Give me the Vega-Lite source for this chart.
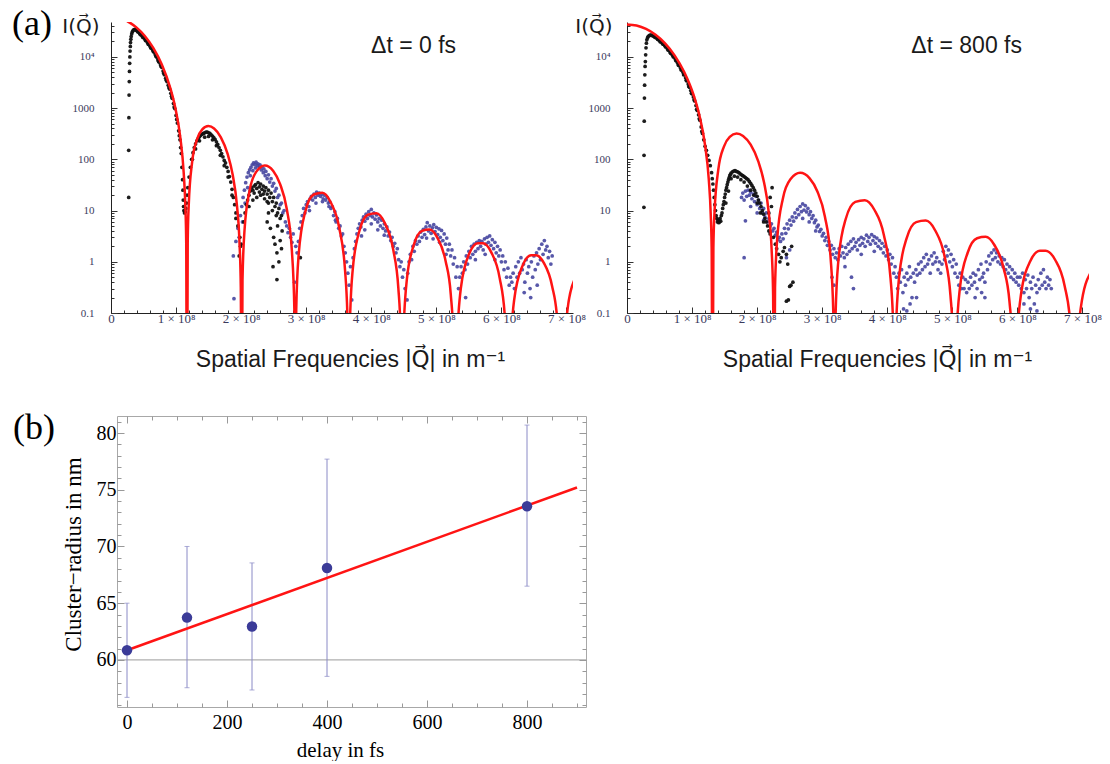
{
"$schema": "https://vega.github.io/schema/vega-lite/v6.json",
"background": "white",
"padding": {"left": 12, "top": 6, "right": 0, "bottom": 0},
"config": {"view": {"stroke": null}, "axis": {"grid": false, "labelOverlap": false, "labelFlush": false, "labelBound": false}},
"datasets": {
"redL": [{"q":0,"I":60000},{"q":0.1299,"I":57066},{"q":0.2597,"I":48979},{"q":0.3896,"I":37669},{"q":0.5195,"I":25592},{"q":0.6494,"I":14968},{"q":0.7792,"I":7169},{"q":0.9091,"I":2516},{"q":0.987,"I":1028},{"q":1.0649,"I":269.1},{"q":1.1169,"I":55.67},{"q":1.1429,"I":11.95},{"q":1.1558,"I":2.468},{"q":1.167,"I":0.0001},{"q":1.1792,"I":2.627},{"q":1.1948,"I":13.01},{"q":1.2468,"I":88.55},{"q":1.3247,"I":249.9},{"q":1.4026,"I":384.2},{"q":1.4961,"I":445.5},{"q":1.5844,"I":400.3},{"q":1.6883,"I":269.3},{"q":1.7922,"I":127.6},{"q":1.8701,"I":49.86},{"q":1.9351,"I":12.75},{"q":1.974,"I":2.485},{"q":1.9948,"I":0.3124},{"q":2.0065,"I":0.0001},{"q":2.0208,"I":0.4341},{"q":2.0519,"I":4.123},{"q":2.1299,"I":24.6},{"q":2.2338,"I":57.64},{"q":2.3636,"I":76.06},{"q":2.4935,"I":59.39},{"q":2.5974,"I":33.25},{"q":2.7013,"I":10.7},{"q":2.7792,"I":1.679},{"q":2.8182,"I":0.1131},{"q":2.8322,"I":0.0001},{"q":2.8468,"I":0.1157},{"q":2.8831,"I":1.3365},{"q":2.987,"I":9.662},{"q":3.1169,"I":20.56},{"q":3.2468,"I":22.26},{"q":3.3766,"I":14.48},{"q":3.5065,"I":4.66},{"q":3.5974,"I":0.672},{"q":3.6364,"I":0.0612},{"q":3.6535,"I":0.0001},{"q":3.6701,"I":0.0548},{"q":3.7143,"I":0.6898},{"q":3.8182,"I":4.041},{"q":3.9481,"I":8.299},{"q":4.0779,"I":8.897},{"q":4.2078,"I":5.694},{"q":4.3377,"I":1.714},{"q":4.4156,"I":0.309},{"q":4.4545,"I":0.0311},{"q":4.473,"I":0.0001},{"q":4.4909,"I":0.0288},{"q":4.5455,"I":0.436},{"q":4.6494,"I":2.071},{"q":4.7792,"I":4.024},{"q":4.8961,"I":4.277},{"q":5.013,"I":2.998},{"q":5.1429,"I":1.025},{"q":5.2208,"I":0.237},{"q":5.2727,"I":0.0161},{"q":5.2912,"I":0.0001},{"q":5.3091,"I":0.0145},{"q":5.3766,"I":0.306},{"q":5.5065,"I":1.45},{"q":5.6364,"I":2.297},{"q":5.7143,"I":2.303},{"q":5.8442,"I":1.528},{"q":5.974,"I":0.475},{"q":6.0519,"I":0.0867},{"q":6.0909,"I":0.0086},{"q":6.1088,"I":0.0001},{"q":6.1273,"I":0.0086},{"q":6.1948,"I":0.1755},{"q":6.3247,"I":0.8365},{"q":6.4545,"I":1.3366},{"q":6.5325,"I":1.3474},{"q":6.6494,"I":0.9631},{"q":6.7792,"I":0.3343},{"q":6.8571,"I":0.0767},{"q":6.9091,"I":0.0047},{"q":6.9262,"I":0.0001},{"q":6.9429,"I":0.0043},{"q":7.013,"I":0.109},{"q":7.1169,"I":0.4295}],
"redR": [{"q":0,"I":43000},{"q":0.1462,"I":40897},{"q":0.2924,"I":35102},{"q":0.4386,"I":26996},{"q":0.5848,"I":18341},{"q":0.731,"I":10727},{"q":0.8772,"I":5138},{"q":1.0234,"I":1803},{"q":1.1111,"I":736.5},{"q":1.1988,"I":192.8},{"q":1.2573,"I":39.9},{"q":1.2865,"I":8.561},{"q":1.3012,"I":1.769},{"q":1.3137,"I":0.0001},{"q":1.3275,"I":1.883},{"q":1.345,"I":9.325},{"q":1.4035,"I":63.46},{"q":1.4912,"I":179.1},{"q":1.5789,"I":275.3},{"q":1.6842,"I":319.3},{"q":1.7836,"I":286.9},{"q":1.9006,"I":193},{"q":2.0175,"I":91.46},{"q":2.1053,"I":35.73},{"q":2.1784,"I":9.135},{"q":2.2222,"I":1.781},{"q":2.2456,"I":0.2239},{"q":2.2588,"I":0.0001},{"q":2.2749,"I":0.3111},{"q":2.3099,"I":2.955},{"q":2.3977,"I":17.63},{"q":2.5146,"I":41.31},{"q":2.6608,"I":54.51},{"q":2.807,"I":42.57},{"q":2.924,"I":23.83},{"q":3.0409,"I":7.666},{"q":3.1287,"I":1.203},{"q":3.1725,"I":0.081},{"q":3.1883,"I":0.0001},{"q":3.2047,"I":0.0829},{"q":3.2456,"I":0.9578},{"q":3.3626,"I":6.925},{"q":3.5088,"I":14.74},{"q":3.655,"I":15.95},{"q":3.8012,"I":10.38},{"q":3.9474,"I":3.34},{"q":4.0497,"I":0.4816},{"q":4.0936,"I":0.0439},{"q":4.1129,"I":0.0001},{"q":4.1316,"I":0.0393},{"q":4.1813,"I":0.4944},{"q":4.2982,"I":2.896},{"q":4.4444,"I":5.948},{"q":4.5906,"I":6.376},{"q":4.7368,"I":4.081},{"q":4.883,"I":1.228},{"q":4.9708,"I":0.2214},{"q":5.0146,"I":0.0223},{"q":5.0354,"I":0.0001},{"q":5.0556,"I":0.0207},{"q":5.117,"I":0.3125},{"q":5.2339,"I":1.484},{"q":5.3801,"I":2.884},{"q":5.5117,"I":3.065},{"q":5.6433,"I":2.149},{"q":5.7895,"I":0.7349},{"q":5.8772,"I":0.1699},{"q":5.9357,"I":0.0115},{"q":5.9564,"I":0.0001},{"q":5.9766,"I":0.0104},{"q":6.0526,"I":0.2192},{"q":6.1988,"I":1.0394},{"q":6.345,"I":1.646},{"q":6.4327,"I":1.651},{"q":6.5789,"I":1.095},{"q":6.7251,"I":0.3403},{"q":6.8129,"I":0.0621},{"q":6.8567,"I":0.0062},{"q":6.8769,"I":0.0001},{"q":6.8977,"I":0.0062},{"q":6.9737,"I":0.1258},{"q":7.1199,"I":0.5995}],
"kL": [{"q":0.272,"I":18},{"q":0.272,"I":150},{"q":0.275,"I":650},{"q":0.278,"I":1800},{"q":0.281,"I":3300},{"q":0.284,"I":5200},{"q":0.287,"I":7500},{"q":0.29,"I":10000},{"q":0.293,"I":13000},{"q":0.297,"I":16000},{"q":0.3,"I":19000},{"q":0.305,"I":22000},{"q":0.31,"I":25000},{"q":0.318,"I":28000},{"q":0.326,"I":30500},{"q":0.335,"I":32000},{"q":0.345,"I":33500},{"q":0.356,"I":34000},{"q":0.368,"I":34500},{"q":0.38,"I":34000},{"q":0.392,"I":33000},{"q":0.4,"I":32500},{"q":0.42,"I":30500},{"q":0.44,"I":28500},{"q":0.46,"I":27000},{"q":0.48,"I":25300},{"q":0.5,"I":23800},{"q":0.52,"I":22400},{"q":0.54,"I":20700},{"q":0.56,"I":19000},{"q":0.58,"I":17500},{"q":0.6,"I":16100},{"q":0.62,"I":14800},{"q":0.64,"I":13700},{"q":0.66,"I":12400},{"q":0.68,"I":11100},{"q":0.7,"I":9900},{"q":0.72,"I":8800},{"q":0.74,"I":7900},{"q":0.76,"I":7000},{"q":0.78,"I":6250},{"q":0.8,"I":5300},{"q":0.82,"I":4500},{"q":0.84,"I":3850},{"q":0.86,"I":3300},{"q":0.88,"I":2800},{"q":0.9,"I":2350},{"q":0.92,"I":1950},{"q":0.94,"I":1550},{"q":0.96,"I":1230},{"q":0.98,"I":980},{"q":1,"I":720},{"q":1.02,"I":510},{"q":1.04,"I":360},{"q":1.06,"I":240},{"q":1.08,"I":130},{"q":1.09,"I":70},{"q":1.1,"I":40},{"q":1.105,"I":25},{"q":1.11,"I":16},{"q":1.115,"I":12},{"q":1.12,"I":10},{"q":1.13,"I":9},{"q":1.14,"I":9.5},{"q":1.15,"I":11},{"q":1.16,"I":14},{"q":1.17,"I":20},{"q":0.41,"I":31000},{"q":0.45,"I":27500},{"q":0.49,"I":24000},{"q":0.53,"I":21000},{"q":0.57,"I":17800},{"q":0.61,"I":15000},{"q":0.65,"I":12800},{"q":0.69,"I":10300},{"q":0.73,"I":8200},{"q":0.77,"I":6500},{"q":0.81,"I":4800},{"q":0.85,"I":3500},{"q":0.89,"I":2500},{"q":0.93,"I":1700},{"q":0.97,"I":1050},{"q":1.01,"I":600},{"q":1.05,"I":290},{"q":1.07,"I":170},{"q":1.18,"I":28},{"q":1.2,"I":45},{"q":1.22,"I":70},{"q":1.24,"I":100},{"q":1.26,"I":135},{"q":1.28,"I":170},{"q":1.3,"I":200},{"q":1.32,"I":230},{"q":1.34,"I":255},{"q":1.36,"I":275},{"q":1.38,"I":295},{"q":1.4,"I":310},{"q":1.42,"I":320},{"q":1.44,"I":330},{"q":1.46,"I":340},{"q":1.48,"I":340},{"q":1.5,"I":330},{"q":1.52,"I":320},{"q":1.54,"I":300},{"q":1.56,"I":285},{"q":1.58,"I":265},{"q":1.6,"I":245},{"q":1.62,"I":220},{"q":1.64,"I":195},{"q":1.66,"I":170},{"q":1.68,"I":150},{"q":1.7,"I":130},{"q":1.72,"I":112},{"q":1.74,"I":95},{"q":1.76,"I":85},{"q":1.78,"I":70},{"q":1.8,"I":58},{"q":1.82,"I":46},{"q":1.84,"I":36},{"q":1.86,"I":26},{"q":1.88,"I":18},{"q":1.9,"I":13},{"q":1.92,"I":9},{"q":1.95,"I":5},{"q":1.98,"I":3},{"q":2,"I":2.2},{"q":1.97,"I":1.3},{"q":1.99,"I":2},{"q":1.44,"I":270},{"q":1.5,"I":280},{"q":1.56,"I":240},{"q":1.62,"I":185},{"q":1.68,"I":120},{"q":1.74,"I":75},{"q":1.8,"I":45},{"q":1.86,"I":20},{"q":1.92,"I":7},{"q":1.3,"I":160},{"q":1.36,"I":230},{"q":1.25,"I":100},{"q":2.04,"I":6},{"q":2.06,"I":9},{"q":2.08,"I":13},{"q":2.1,"I":16},{"q":2.12,"I":20},{"q":2.14,"I":24},{"q":2.16,"I":28},{"q":2.18,"I":25},{"q":2.2,"I":30},{"q":2.22,"I":32},{"q":2.24,"I":27},{"q":2.26,"I":35},{"q":2.28,"I":29},{"q":2.3,"I":33},{"q":2.32,"I":26},{"q":2.34,"I":30},{"q":2.36,"I":24},{"q":2.38,"I":28},{"q":2.4,"I":21},{"q":2.42,"I":25},{"q":2.44,"I":18},{"q":2.46,"I":22},{"q":2.48,"I":15},{"q":2.5,"I":18},{"q":2.52,"I":12},{"q":2.54,"I":14},{"q":2.56,"I":9},{"q":2.58,"I":11},{"q":2.6,"I":7},{"q":2.62,"I":8},{"q":2.12,"I":12},{"q":2.18,"I":16},{"q":2.24,"I":18},{"q":2.3,"I":20},{"q":2.36,"I":17},{"q":2.42,"I":14},{"q":2.48,"I":10},{"q":2.54,"I":8},{"q":2.2,"I":22},{"q":2.28,"I":23},{"q":2.34,"I":21},{"q":2.4,"I":15},{"q":2.45,"I":4.5},{"q":2.5,"I":3},{"q":2.52,"I":2.2},{"q":2.55,"I":1.5},{"q":2.49,"I":0.8},{"q":2.55,"I":0.45},{"q":2.6,"I":2.6},{"q":2.62,"I":1.8},{"q":2.58,"I":1},{"q":2.91,"I":1.2},{"q":2.4,"I":6},{"q":2.42,"I":9},{"q":2.56,"I":5},{"q":2.63,"I":4}],
"bL": [{"q":1.88,"I":1.3},{"q":1.89,"I":0.19},{"q":1.92,"I":2.5},{"q":1.95,"I":4.5},{"q":1.97,"I":3},{"q":1.99,"I":8},{"q":2.01,"I":12},{"q":2.02,"I":6},{"q":2.03,"I":18},{"q":2.05,"I":25},{"q":2.06,"I":14},{"q":2.07,"I":35},{"q":2.09,"I":45},{"q":2.1,"I":28},{"q":2.11,"I":55},{"q":2.13,"I":62},{"q":2.14,"I":48},{"q":2.15,"I":70},{"q":2.17,"I":78},{"q":2.18,"I":60},{"q":2.19,"I":85},{"q":2.21,"I":80},{"q":2.22,"I":68},{"q":2.23,"I":88},{"q":2.25,"I":75},{"q":2.26,"I":82},{"q":2.28,"I":70},{"q":2.29,"I":78},{"q":2.31,"I":62},{"q":2.32,"I":72},{"q":2.34,"I":55},{"q":2.35,"I":65},{"q":2.37,"I":48},{"q":2.38,"I":58},{"q":2.4,"I":42},{"q":2.42,"I":50},{"q":2.44,"I":36},{"q":2.46,"I":42},{"q":2.48,"I":30},{"q":2.5,"I":34},{"q":2.52,"I":24},{"q":2.54,"I":27},{"q":2.56,"I":18},{"q":2.58,"I":20},{"q":2.6,"I":13},{"q":2.62,"I":14},{"q":2.64,"I":9},{"q":2.66,"I":10},{"q":2.68,"I":6},{"q":2.7,"I":5},{"q":2.72,"I":3.7},{"q":2.74,"I":4.5},{"q":2.76,"I":3},{"q":2.78,"I":2.4},{"q":2.8,"I":3.5},{"q":2.82,"I":0.4},{"q":2.84,"I":2},{"q":2.86,"I":1.5},{"q":2.88,"I":2.5},{"q":2.9,"I":4.5},{"q":2.92,"I":6},{"q":2.94,"I":8},{"q":2.96,"I":11},{"q":2.98,"I":9},{"q":3,"I":13},{"q":3.02,"I":15},{"q":3.04,"I":12},{"q":3.06,"I":17},{"q":3.08,"I":19},{"q":3.1,"I":16},{"q":3.12,"I":21},{"q":3.14,"I":18},{"q":3.16,"I":23},{"q":3.18,"I":20},{"q":3.2,"I":22},{"q":3.22,"I":19},{"q":3.24,"I":21},{"q":3.26,"I":17},{"q":3.28,"I":20},{"q":3.3,"I":16},{"q":3.32,"I":18},{"q":3.34,"I":14},{"q":3.36,"I":15},{"q":3.38,"I":11},{"q":3.4,"I":12},{"q":3.42,"I":8},{"q":3.44,"I":9.5},{"q":3.46,"I":6},{"q":3.48,"I":7},{"q":3.5,"I":4.5},{"q":3.52,"I":5},{"q":3.54,"I":3.2},{"q":3.56,"I":3.5},{"q":3.58,"I":2},{"q":3.6,"I":1.5},{"q":3.62,"I":1},{"q":3.64,"I":0.6},{"q":3.66,"I":0.35},{"q":3.7,"I":0.18},{"q":3.68,"I":0.8},{"q":3.72,"I":1.2},{"q":3.05,"I":10},{"q":3.15,"I":14},{"q":3.25,"I":15},{"q":3.35,"I":12},{"q":3.45,"I":6.5},{"q":3.74,"I":1.8},{"q":3.76,"I":2.5},{"q":3.78,"I":3.5},{"q":3.8,"I":4.5},{"q":3.82,"I":5.5},{"q":3.84,"I":4.8},{"q":3.86,"I":6.5},{"q":3.88,"I":7.5},{"q":3.9,"I":6.2},{"q":3.92,"I":8.5},{"q":3.94,"I":7},{"q":3.96,"I":9.5},{"q":3.98,"I":8},{"q":4,"I":10.5},{"q":4.02,"I":7.5},{"q":4.04,"I":9},{"q":4.06,"I":6.8},{"q":4.08,"I":8.2},{"q":4.1,"I":6},{"q":4.12,"I":7},{"q":4.14,"I":5},{"q":4.16,"I":6.5},{"q":4.18,"I":4.5},{"q":4.2,"I":5.5},{"q":4.22,"I":4},{"q":4.24,"I":4.8},{"q":4.26,"I":3.2},{"q":4.28,"I":3.8},{"q":4.3,"I":2.6},{"q":4.32,"I":3},{"q":4.34,"I":2},{"q":4.36,"I":2.3},{"q":4.38,"I":1.5},{"q":4.4,"I":1.8},{"q":4.42,"I":1.1},{"q":4.44,"I":0.8},{"q":4.46,"I":1},{"q":4.48,"I":0.5},{"q":4.52,"I":0.3},{"q":4.55,"I":0.18},{"q":4.5,"I":0.7},{"q":3.9,"I":4.2},{"q":4,"I":5.5},{"q":4.1,"I":4.2},{"q":4.2,"I":3.3},{"q":3.85,"I":3.2},{"q":4.56,"I":0.6},{"q":4.58,"I":1},{"q":4.6,"I":1.4},{"q":4.62,"I":1.1},{"q":4.64,"I":2},{"q":4.66,"I":1.6},{"q":4.68,"I":2.6},{"q":4.7,"I":2.2},{"q":4.72,"I":3.2},{"q":4.74,"I":2.5},{"q":4.76,"I":3.8},{"q":4.78,"I":3},{"q":4.8,"I":4.3},{"q":4.82,"I":3.4},{"q":4.84,"I":4.8},{"q":4.86,"I":5.8},{"q":4.88,"I":4},{"q":4.9,"I":5},{"q":4.92,"I":3.6},{"q":4.94,"I":4.6},{"q":4.96,"I":5.3},{"q":4.98,"I":3.9},{"q":5,"I":4.7},{"q":5.02,"I":3.4},{"q":5.04,"I":4.4},{"q":5.06,"I":3},{"q":5.08,"I":4.1},{"q":5.1,"I":2.6},{"q":5.12,"I":3.5},{"q":5.14,"I":2.2},{"q":5.16,"I":2.9},{"q":5.18,"I":1.7},{"q":5.2,"I":2.2},{"q":5.22,"I":1.3},{"q":5.24,"I":1.7},{"q":5.26,"I":0.9},{"q":5.28,"I":1.2},{"q":5.3,"I":0.5},{"q":5.32,"I":0.8},{"q":4.95,"I":2.8},{"q":5.05,"I":2.4},{"q":4.85,"I":2.9},{"q":5.15,"I":1.4},{"q":5.34,"I":0.3},{"q":5.36,"I":0.5},{"q":5.38,"I":0.8},{"q":5.4,"I":0.6},{"q":5.42,"I":1},{"q":5.44,"I":0.7},{"q":5.46,"I":1.3},{"q":5.48,"I":0.9},{"q":5.5,"I":1.6},{"q":5.52,"I":1.2},{"q":5.54,"I":2},{"q":5.56,"I":1.4},{"q":5.58,"I":2.2},{"q":5.6,"I":1.6},{"q":5.62,"I":2.4},{"q":5.64,"I":1.8},{"q":5.66,"I":2.6},{"q":5.68,"I":2},{"q":5.7,"I":2.5},{"q":5.72,"I":1.7},{"q":5.74,"I":2.8},{"q":5.76,"I":2.2},{"q":5.78,"I":3},{"q":5.8,"I":2.4},{"q":5.82,"I":3.2},{"q":5.84,"I":2.1},{"q":5.86,"I":2.7},{"q":5.88,"I":1.8},{"q":5.9,"I":2.4},{"q":5.92,"I":1.5},{"q":5.94,"I":2},{"q":5.96,"I":1.3},{"q":5.98,"I":1.7},{"q":6,"I":1},{"q":6.02,"I":1.3},{"q":6.04,"I":0.7},{"q":6.06,"I":1},{"q":6.08,"I":0.5},{"q":6.1,"I":0.75},{"q":6.12,"I":0.35},{"q":6.14,"I":0.5},{"q":5.45,"I":0.2},{"q":5.6,"I":1.1},{"q":5.75,"I":1.4},{"q":5.9,"I":1.1},{"q":6.16,"I":0.4},{"q":6.18,"I":0.6},{"q":6.2,"I":0.3},{"q":6.22,"I":0.8},{"q":6.24,"I":0.5},{"q":6.26,"I":1},{"q":6.28,"I":0.6},{"q":6.3,"I":1.2},{"q":6.32,"I":0.7},{"q":6.34,"I":0.9},{"q":6.36,"I":0.4},{"q":6.38,"I":1.1},{"q":6.4,"I":0.6},{"q":6.42,"I":0.8},{"q":6.44,"I":0.3},{"q":6.46,"I":1},{"q":6.48,"I":0.5},{"q":6.5,"I":1.3},{"q":6.52,"I":0.7},{"q":6.54,"I":1.5},{"q":6.56,"I":0.9},{"q":6.58,"I":1.8},{"q":6.6,"I":1.1},{"q":6.62,"I":2.2},{"q":6.64,"I":1.4},{"q":6.66,"I":2.6},{"q":6.68,"I":1.7},{"q":6.7,"I":2},{"q":6.72,"I":1.2},{"q":6.74,"I":1.6},{"q":6.76,"I":0.9},{"q":6.78,"I":1.3},{"q":6.45,"I":0.2},{"q":6.35,"I":0.25},{"q":6.55,"I":0.35}],
"kR": [{"q":0.26,"I":11.6},{"q":0.262,"I":120},{"q":0.265,"I":556},{"q":0.268,"I":1570},{"q":0.271,"I":2800},{"q":0.274,"I":4460},{"q":0.278,"I":6500},{"q":0.282,"I":8100},{"q":0.287,"I":11000},{"q":0.292,"I":15000},{"q":0.298,"I":18500},{"q":0.305,"I":21600},{"q":0.315,"I":23500},{"q":0.325,"I":25000},{"q":0.34,"I":26000},{"q":0.355,"I":26500},{"q":0.37,"I":26500},{"q":0.385,"I":26200},{"q":0.4,"I":25500},{"q":0.42,"I":25100},{"q":0.44,"I":24200},{"q":0.46,"I":23000},{"q":0.48,"I":21800},{"q":0.5,"I":20700},{"q":0.52,"I":19600},{"q":0.54,"I":18600},{"q":0.56,"I":17600},{"q":0.58,"I":16700},{"q":0.6,"I":15600},{"q":0.62,"I":14500},{"q":0.64,"I":13500},{"q":0.66,"I":12500},{"q":0.68,"I":11600},{"q":0.7,"I":10800},{"q":0.72,"I":10000},{"q":0.74,"I":9200},{"q":0.76,"I":8350},{"q":0.78,"I":7550},{"q":0.8,"I":6800},{"q":0.82,"I":6150},{"q":0.84,"I":5550},{"q":0.86,"I":5000},{"q":0.88,"I":4500},{"q":0.9,"I":3900},{"q":0.92,"I":3400},{"q":0.94,"I":2950},{"q":0.96,"I":2550},{"q":0.98,"I":2200},{"q":1,"I":1900},{"q":1.02,"I":1650},{"q":1.04,"I":1380},{"q":1.06,"I":1120},{"q":1.08,"I":900},{"q":1.1,"I":740},{"q":1.12,"I":580},{"q":1.14,"I":430},{"q":1.16,"I":320},{"q":1.18,"I":240},{"q":1.2,"I":180},{"q":0.43,"I":24000},{"q":0.47,"I":22000},{"q":0.51,"I":19800},{"q":0.55,"I":17800},{"q":0.59,"I":15800},{"q":0.63,"I":13700},{"q":0.67,"I":11800},{"q":0.71,"I":10100},{"q":0.75,"I":8500},{"q":0.79,"I":6900},{"q":0.83,"I":5600},{"q":0.87,"I":4500},{"q":0.91,"I":3500},{"q":0.95,"I":2650},{"q":0.99,"I":1950},{"q":1.03,"I":1450},{"q":1.07,"I":950},{"q":1.11,"I":620},{"q":1.15,"I":350},{"q":1.22,"I":150},{"q":1.24,"I":120},{"q":1.26,"I":95},{"q":1.28,"I":75},{"q":1.3,"I":55},{"q":1.31,"I":42},{"q":1.32,"I":33},{"q":1.33,"I":25},{"q":1.34,"I":18},{"q":1.35,"I":13},{"q":1.36,"I":10},{"q":1.37,"I":8},{"q":1.38,"I":7},{"q":1.39,"I":6},{"q":1.4,"I":6.5},{"q":1.41,"I":5.8},{"q":1.42,"I":6},{"q":1.43,"I":7},{"q":1.44,"I":6.2},{"q":1.45,"I":8},{"q":1.46,"I":9},{"q":1.47,"I":11},{"q":1.48,"I":13},{"q":1.49,"I":15},{"q":1.5,"I":18},{"q":1.51,"I":21},{"q":1.52,"I":25},{"q":1.53,"I":28},{"q":1.54,"I":32},{"q":1.55,"I":36},{"q":1.56,"I":40},{"q":1.57,"I":44},{"q":1.58,"I":48},{"q":1.59,"I":51},{"q":1.6,"I":54},{"q":1.62,"I":57},{"q":1.64,"I":59},{"q":1.66,"I":60},{"q":1.68,"I":58},{"q":1.7,"I":57},{"q":1.72,"I":55},{"q":1.74,"I":52},{"q":1.76,"I":50},{"q":1.78,"I":48},{"q":1.8,"I":46},{"q":1.82,"I":44},{"q":1.84,"I":42},{"q":1.86,"I":40},{"q":1.88,"I":37},{"q":1.9,"I":34},{"q":1.92,"I":31},{"q":1.94,"I":28},{"q":1.96,"I":25},{"q":1.98,"I":22},{"q":2,"I":19},{"q":2.02,"I":16},{"q":2.04,"I":14},{"q":2.06,"I":12},{"q":2.08,"I":10},{"q":2.1,"I":8.5},{"q":2.12,"I":7},{"q":2.14,"I":6},{"q":2.16,"I":5},{"q":2.18,"I":4},{"q":2.2,"I":3.5},{"q":1.6,"I":42},{"q":1.65,"I":47},{"q":1.7,"I":45},{"q":1.75,"I":40},{"q":1.8,"I":36},{"q":1.85,"I":30},{"q":1.9,"I":25},{"q":1.95,"I":20},{"q":2,"I":14},{"q":2.05,"I":9},{"q":2.1,"I":6},{"q":1.52,"I":14},{"q":1.56,"I":24},{"q":2.23,"I":28},{"q":2.25,"I":3},{"q":2.28,"I":2.2},{"q":2.3,"I":1.8},{"q":2.33,"I":1.4},{"q":2.35,"I":1},{"q":2.37,"I":1.2},{"q":2.4,"I":1.6},{"q":2.42,"I":1.9},{"q":2.45,"I":1.4},{"q":2.47,"I":0.9},{"q":2.5,"I":0.33},{"q":2.52,"I":0.35},{"q":2.48,"I":0.18},{"q":2.45,"I":0.17},{"q":2.55,"I":0.4},{"q":2.2,"I":18},{"q":2.22,"I":12},{"q":2.18,"I":9},{"q":2.53,"I":2}],
"bR": [{"q":1.76,"I":18},{"q":1.78,"I":22},{"q":1.8,"I":16},{"q":1.8,"I":1.2},{"q":1.82,"I":6.3},{"q":1.82,"I":24},{"q":1.84,"I":19},{"q":1.86,"I":25},{"q":1.88,"I":20},{"q":1.9,"I":23},{"q":1.92,"I":17},{"q":1.94,"I":21},{"q":1.96,"I":15},{"q":1.98,"I":19},{"q":2,"I":13},{"q":2.02,"I":16},{"q":2.04,"I":11},{"q":2.06,"I":14},{"q":2.08,"I":9},{"q":2.1,"I":11},{"q":2.12,"I":7.5},{"q":2.14,"I":9},{"q":2.16,"I":6},{"q":2.18,"I":7},{"q":2.2,"I":5},{"q":2.22,"I":5.5},{"q":2.24,"I":4},{"q":2.26,"I":4.5},{"q":2.28,"I":3.3},{"q":2.3,"I":3.8},{"q":2.32,"I":2.7},{"q":2.34,"I":3},{"q":1.9,"I":12},{"q":2,"I":9},{"q":2.1,"I":6.5},{"q":2.2,"I":3.8},{"q":2.36,"I":2.5},{"q":2.38,"I":3.5},{"q":2.4,"I":2.8},{"q":2.42,"I":4.5},{"q":2.44,"I":3.6},{"q":2.46,"I":5.5},{"q":2.48,"I":4.4},{"q":2.5,"I":6.5},{"q":2.52,"I":5.2},{"q":2.54,"I":7.5},{"q":2.56,"I":6.2},{"q":2.58,"I":9},{"q":2.6,"I":7.3},{"q":2.62,"I":10.5},{"q":2.64,"I":8.3},{"q":2.66,"I":12},{"q":2.68,"I":9.5},{"q":2.7,"I":13.5},{"q":2.72,"I":10.2},{"q":2.74,"I":12.5},{"q":2.76,"I":9.4},{"q":2.78,"I":11},{"q":2.8,"I":8.3},{"q":2.82,"I":9.5},{"q":2.84,"I":7},{"q":2.86,"I":8},{"q":2.88,"I":5.8},{"q":2.9,"I":6.5},{"q":2.92,"I":4.8},{"q":2.94,"I":5.2},{"q":2.96,"I":3.9},{"q":2.98,"I":4.3},{"q":3,"I":3.2},{"q":3.02,"I":3.6},{"q":3.04,"I":2.6},{"q":3.06,"I":3},{"q":3.08,"I":2.1},{"q":3.1,"I":2.5},{"q":3.12,"I":1.7},{"q":3.14,"I":2.1},{"q":3.16,"I":1.4},{"q":3.18,"I":1.8},{"q":3.2,"I":1.2},{"q":2.5,"I":1.7},{"q":2.45,"I":1.2},{"q":2.7,"I":7},{"q":2.8,"I":6},{"q":2.9,"I":4},{"q":3.15,"I":0.5},{"q":3.18,"I":0.35},{"q":3.22,"I":1.5},{"q":3.24,"I":1.1},{"q":3.26,"I":1.8},{"q":3.28,"I":1.3},{"q":3.3,"I":2},{"q":3.32,"I":1.5},{"q":3.34,"I":1.2},{"q":3.36,"I":1.9},{"q":3.38,"I":1.4},{"q":3.4,"I":2.2},{"q":3.42,"I":1.6},{"q":3.44,"I":2.5},{"q":3.46,"I":1.8},{"q":3.48,"I":2.8},{"q":3.5,"I":2},{"q":3.52,"I":2.4},{"q":3.54,"I":1.7},{"q":3.56,"I":2.7},{"q":3.58,"I":2.1},{"q":3.6,"I":3},{"q":3.62,"I":2.3},{"q":3.64,"I":2.8},{"q":3.66,"I":2},{"q":3.68,"I":3.3},{"q":3.7,"I":2.5},{"q":3.72,"I":3},{"q":3.74,"I":2.2},{"q":3.76,"I":3.4},{"q":3.78,"I":2.6},{"q":3.8,"I":3.1},{"q":3.82,"I":2.3},{"q":3.84,"I":2.9},{"q":3.86,"I":2},{"q":3.88,"I":2.6},{"q":3.9,"I":1.8},{"q":3.92,"I":2.3},{"q":3.94,"I":1.5},{"q":3.96,"I":2},{"q":3.98,"I":1.3},{"q":4,"I":1.7},{"q":4.02,"I":1.1},{"q":4.04,"I":1.4},{"q":4.06,"I":0.9},{"q":4.08,"I":1.2},{"q":3.45,"I":0.5},{"q":3.48,"I":0.3},{"q":3.35,"I":0.8},{"q":3.6,"I":1.4},{"q":3.8,"I":1.6},{"q":4.1,"I":0.6},{"q":4.12,"I":0.8},{"q":4.14,"I":0.5},{"q":4.16,"I":0.3},{"q":4.18,"I":0.6},{"q":4.2,"I":0.4},{"q":4.22,"I":0.7},{"q":4.24,"I":0.25},{"q":4.26,"I":0.5},{"q":4.28,"I":0.35},{"q":4.3,"I":0.6},{"q":4.32,"I":0.45},{"q":4.34,"I":0.8},{"q":4.36,"I":0.5},{"q":4.38,"I":0.2},{"q":4.4,"I":0.6},{"q":4.42,"I":0.4},{"q":4.44,"I":0.7},{"q":4.46,"I":0.55},{"q":4.48,"I":0.9},{"q":4.5,"I":0.6},{"q":4.52,"I":1},{"q":4.54,"I":0.7},{"q":4.56,"I":1.2},{"q":4.58,"I":0.8},{"q":4.6,"I":1.4},{"q":4.62,"I":0.9},{"q":4.64,"I":1.1},{"q":4.66,"I":0.6},{"q":4.68,"I":1.3},{"q":4.7,"I":0.9},{"q":4.72,"I":1.5},{"q":4.74,"I":1},{"q":4.76,"I":1.2},{"q":4.78,"I":0.7},{"q":4.8,"I":1},{"q":4.82,"I":0.6},{"q":4.84,"I":0.9},{"q":4.86,"I":1.6},{"q":4.88,"I":1.1},{"q":4.9,"I":2},{"q":4.92,"I":1.3},{"q":4.94,"I":1.7},{"q":4.96,"I":1},{"q":4.98,"I":1.4},{"q":5,"I":0.8},{"q":5.02,"I":1.1},{"q":5.04,"I":0.6},{"q":5.06,"I":0.9},{"q":5.08,"I":0.5},{"q":5.1,"I":0.35},{"q":5.12,"I":0.6},{"q":5.14,"I":0.3},{"q":4.25,"I":0.12},{"q":4.35,"I":0.15},{"q":4.45,"I":0.2},{"q":4.3,"I":0.11},{"q":5.16,"I":0.5},{"q":5.18,"I":0.3},{"q":5.2,"I":0.45},{"q":5.22,"I":0.25},{"q":5.24,"I":0.4},{"q":5.26,"I":0.3},{"q":5.28,"I":0.5},{"q":5.3,"I":0.35},{"q":5.32,"I":0.6},{"q":5.34,"I":0.4},{"q":5.36,"I":0.55},{"q":5.38,"I":0.3},{"q":5.4,"I":0.7},{"q":5.42,"I":0.45},{"q":5.44,"I":0.9},{"q":5.46,"I":0.5},{"q":5.48,"I":0.6},{"q":5.5,"I":0.4},{"q":5.52,"I":1},{"q":5.54,"I":0.7},{"q":5.56,"I":1.3},{"q":5.58,"I":0.9},{"q":5.6,"I":1.5},{"q":5.62,"I":1.1},{"q":5.64,"I":1.7},{"q":5.66,"I":1.2},{"q":5.68,"I":1.5},{"q":5.7,"I":1},{"q":5.72,"I":1.3},{"q":5.74,"I":0.9},{"q":5.76,"I":1.2},{"q":5.78,"I":0.8},{"q":5.8,"I":1.1},{"q":5.82,"I":0.7},{"q":5.84,"I":0.9},{"q":5.86,"I":0.6},{"q":5.88,"I":0.8},{"q":5.9,"I":0.5},{"q":5.92,"I":0.7},{"q":5.94,"I":0.45},{"q":5.96,"I":0.6},{"q":5.98,"I":0.4},{"q":6,"I":0.5},{"q":5.5,"I":0.2},{"q":5.45,"I":0.25},{"q":5.35,"I":0.2},{"q":6.02,"I":0.35},{"q":6.04,"I":0.5},{"q":6.06,"I":0.3},{"q":6.08,"I":0.6},{"q":6.1,"I":0.25},{"q":6.12,"I":0.45},{"q":6.14,"I":0.3},{"q":6.16,"I":0.55},{"q":6.18,"I":0.2},{"q":6.2,"I":0.4},{"q":6.22,"I":0.3},{"q":6.24,"I":0.5},{"q":6.26,"I":0.15},{"q":6.28,"I":0.35},{"q":6.3,"I":0.25},{"q":6.32,"I":0.45},{"q":6.34,"I":0.3},{"q":6.36,"I":0.6},{"q":6.38,"I":0.35},{"q":6.4,"I":0.7},{"q":6.42,"I":0.4},{"q":6.44,"I":0.3},{"q":6.46,"I":0.5},{"q":6.48,"I":0.35},{"q":6.5,"I":0.45},{"q":6.52,"I":0.3},{"q":6.2,"I":0.12},{"q":6.3,"I":0.11},{"q":6.1,"I":0.15}],
"pts": [{"d":0,"r":60.85},{"d":120,"r":63.73},{"d":250,"r":62.95},{"d":400,"r":68.1},{"d":800,"r":73.55}],
"err": [{"d":0,"r":56.7,"r2":65.0},{"d":120,"r":57.55,"r2":70.0},{"d":250,"r":57.35,"r2":68.55},{"d":400,"r":58.55,"r2":77.7},{"d":800,"r":66.5,"r2":80.7}],
"caps": [{"d":0,"r":56.7},{"d":0,"r":65.0},{"d":120,"r":57.55},{"d":120,"r":70.0},{"d":250,"r":57.35},{"d":250,"r":68.55},{"d":400,"r":58.55},{"d":400,"r":77.7},{"d":800,"r":66.5},{"d":800,"r":80.7}],
"base": [{"d":-20,"r":60},{"d":918,"r":60}],
"fit": [{"d":0,"r":60.85},{"d":900,"r":75.2}]
},
"vconcat": [
{
"hconcat": [
{
"width": 462, "height": 291,
"title": {"text": "(a)", "anchor": "start", "frame": "group", "orient": "top", "offset": 0, "dx": -99, "dy": 55, "baseline": "alphabetic", "font": "Liberation Serif", "fontSize": 36, "fontWeight": "normal", "color": "#000000"},
"encoding": {
"x": {"field": "q", "type": "quantitative", "scale": {"domain": [0, 7.1], "nice": false, "zero": false},
"axis": {"values": [0,0.2,0.4,0.6,0.8,1,1.2,1.4,1.6,1.8,2,2.2,2.4,2.6,2.8,3,3.2,3.4,3.6,3.8,4,4.2,4.4,4.6,4.8,5,5.2,5.4,5.6,5.8,6,6.2,6.4,6.6,6.8,7],
"labelExpr": "datum.value === 0 ? '0' : (abs(datum.value - round(datum.value)) < 0.01 ? round(datum.value) + ' × 10⁸' : '')",
"tickSize": {"condition": {"test": "abs(datum.value - round(datum.value)) < 0.01", "value": -6}, "value": -3},
"tickColor": "#333333", "domainColor": "#222222", "labelFont": "Liberation Serif", "labelFontSize": 13, "labelColor": "#3a3a5c", "labelPadding": 5,
"title": "Spatial Frequencies  |Q⃗|  in m⁻¹", "titleFont": "Liberation Sans, DejaVu Sans", "titleFontSize": 23, "titleFontWeight": "normal", "titleColor": "#1a1a1a", "titleX": 239, "titleY": 53, "titleBaseline": "alphabetic", "titleAlign": "center"}},
"y": {"field": "I", "type": "quantitative", "scale": {"type": "log", "domain": [0.1, 48000], "nice": false},
"axis": {"values": [0.1,0.2,0.3,0.4,0.5,0.6,0.7,0.8,0.9,1,2,3,4,5,6,7,8,9,10,20,30,40,50,60,70,80,90,100,200,300,400,500,600,700,800,900,1000,2000,3000,4000,5000,6000,7000,8000,9000,10000,20000,30000,40000],
"labelExpr": "datum.value === 10000 ? '10⁴' : datum.value === 1000 ? '1000' : datum.value === 100 ? '100' : datum.value === 10 ? '10' : datum.value === 1 ? '1' : datum.value === 0.1 ? '0.1' : ''",
"tickSize": {"condition": {"test": "indexof([0.1,1,10,100,1000,10000], datum.value) >= 0", "value": -6}, "value": -3},
"tickColor": "#333333", "domainColor": "#222222", "labelFont": "Liberation Serif", "labelFontSize": 11, "labelColor": "#3a3a5c", "labelPadding": 23,
"title": "I(Q⃗)", "titleAngle": 0, "titleAlign": "right", "titleBaseline": "alphabetic", "titleX": -12, "titleY": 10, "titleFont": "DejaVu Sans", "titleFontSize": 20, "titleFontWeight": "normal", "titleColor": "#1a1a1a"}}
},
"layer": [
{"data": {"name": "bL"}, "mark": {"type": "circle", "size": 14, "color": "#4646a0", "opacity": 0.9, "clip": true}},
{"data": {"name": "kL"}, "mark": {"type": "circle", "size": 14, "color": "#111111", "opacity": 0.95, "clip": true}},
{"data": {"name": "redL"}, "mark": {"type": "line", "color": "#ff1414", "strokeWidth": 2.5, "clip": true, "interpolate": "monotone"}},
{"data": {"values": [{"q": 4.65, "I": 12000, "t": "Δt = 0 fs"}]}, "mark": {"type": "text", "font": "Liberation Sans", "fontSize": 23, "align": "center", "baseline": "alphabetic", "color": "#1a1a1a"}, "encoding": {"text": {"field": "t"}}}
]
},
{
"width": 462, "height": 291,
"encoding": {
"x": {"field": "q", "type": "quantitative", "scale": {"domain": [0, 7.1], "nice": false, "zero": false},
"axis": {"values": [0,0.2,0.4,0.6,0.8,1,1.2,1.4,1.6,1.8,2,2.2,2.4,2.6,2.8,3,3.2,3.4,3.6,3.8,4,4.2,4.4,4.6,4.8,5,5.2,5.4,5.6,5.8,6,6.2,6.4,6.6,6.8,7],
"labelExpr": "datum.value === 0 ? '0' : (abs(datum.value - round(datum.value)) < 0.01 ? round(datum.value) + ' × 10⁸' : '')",
"tickSize": {"condition": {"test": "abs(datum.value - round(datum.value)) < 0.01", "value": -6}, "value": -3},
"tickColor": "#333333", "domainColor": "#222222", "labelFont": "Liberation Serif", "labelFontSize": 13, "labelColor": "#3a3a5c", "labelPadding": 5,
"title": "Spatial Frequencies  |Q⃗|  in m⁻¹", "titleFont": "Liberation Sans, DejaVu Sans", "titleFontSize": 23, "titleFontWeight": "normal", "titleColor": "#1a1a1a", "titleX": 250, "titleY": 53, "titleBaseline": "alphabetic", "titleAlign": "center"}},
"y": {"field": "I", "type": "quantitative", "scale": {"type": "log", "domain": [0.1, 48000], "nice": false},
"axis": {"values": [0.1,0.2,0.3,0.4,0.5,0.6,0.7,0.8,0.9,1,2,3,4,5,6,7,8,9,10,20,30,40,50,60,70,80,90,100,200,300,400,500,600,700,800,900,1000,2000,3000,4000,5000,6000,7000,8000,9000,10000,20000,30000,40000],
"labelExpr": "datum.value === 10000 ? '10⁴' : datum.value === 1000 ? '1000' : datum.value === 100 ? '100' : datum.value === 10 ? '10' : datum.value === 1 ? '1' : datum.value === 0.1 ? '0.1' : ''",
"tickSize": {"condition": {"test": "indexof([0.1,1,10,100,1000,10000], datum.value) >= 0", "value": -6}, "value": -3},
"tickColor": "#333333", "domainColor": "#222222", "labelFont": "Liberation Serif", "labelFontSize": 11, "labelColor": "#3a3a5c", "labelPadding": 23,
"title": "I(Q⃗)", "titleAngle": 0, "titleAlign": "right", "titleBaseline": "alphabetic", "titleX": -15, "titleY": 10, "titleFont": "DejaVu Sans", "titleFontSize": 20, "titleFontWeight": "normal", "titleColor": "#1a1a1a"}}
},
"layer": [
{"data": {"name": "bR"}, "mark": {"type": "circle", "size": 14, "color": "#4646a0", "opacity": 0.9, "clip": true}},
{"data": {"name": "kR"}, "mark": {"type": "circle", "size": 14, "color": "#111111", "opacity": 0.95, "clip": true}},
{"data": {"name": "redR"}, "mark": {"type": "line", "color": "#ff1414", "strokeWidth": 2.5, "clip": true, "interpolate": "monotone"}},
{"data": {"values": [{"q": 5.22, "I": 12000, "t": "Δt = 800 fs"}]}, "mark": {"type": "text", "font": "Liberation Sans", "fontSize": 23, "align": "center", "baseline": "alphabetic", "color": "#1a1a1a"}, "encoding": {"text": {"field": "t"}}}
]
}
],
"spacing": 54,
"bounds": "flush"
},
{
"hconcat": [
{"width": 1, "height": 291, "data": {"values": [{"v": 0}]}, "mark": {"type": "point", "opacity": 0}, "encoding": {}},
{
"width": 469, "height": 291,
"view": {"stroke": "#a8a8a8", "strokeWidth": 1},
"title": {"text": "(b)", "anchor": "start", "frame": "group", "orient": "top", "offset": 0, "dx": -104, "dy": 63, "baseline": "alphabetic", "font": "Liberation Serif", "fontSize": 36, "fontWeight": "normal", "color": "#000000"},
"layer": [
{
"encoding": {
"x": {"field": "d", "type": "quantitative", "scale": {"domain": [-20, 918], "nice": false, "zero": false},
"axis": {"orient": "bottom", "values": [0,50,100,150,200,250,300,350,400,450,500,550,600,650,700,750,800,850,900], "labelExpr": "datum.value % 200 === 0 ? datum.label : ''", "labelOverlap": false, "tickSize": {"condition": {"test": "datum.value % 200 === 0", "value": -7}, "value": -4}, "tickColor": "#999999", "domain": false, "labelFont": "Liberation Serif", "labelFontSize": 20, "labelColor": "#000000", "labelPadding": 12, "title": "delay in fs", "titleFont": "Liberation Serif", "titleFontSize": 21, "titleFontWeight": "normal", "titleColor": "#000000", "titleX": 223, "titleY": 49, "titleBaseline": "alphabetic", "titleAlign": "center"}},
"y": {"field": "r", "type": "quantitative", "scale": {"domain": [55.85, 81.5], "nice": false, "zero": false},
"axis": {"orient": "left", "values": [56,57,58,59,60,61,62,63,64,65,66,67,68,69,70,71,72,73,74,75,76,77,78,79,80,81], "labelExpr": "datum.value % 5 === 0 ? datum.label : ''", "labelOverlap": false, "tickSize": {"condition": {"test": "datum.value % 5 === 0", "value": -7}, "value": -4}, "tickColor": "#999999", "domain": false, "labelFont": "Liberation Serif", "labelFontSize": 20, "labelColor": "#000000", "labelPadding": 8, "title": "Cluster−radius in nm", "titleFont": "Liberation Serif", "titleFontSize": 23, "titleFontWeight": "normal", "titleColor": "#000000", "titleAngle": 270, "titleX": -44, "titleY": 138, "titleBaseline": "middle", "titleAlign": "center"}}
},
"layer": [
{"data": {"name": "base"}, "mark": {"type": "line", "color": "#9a9a9a", "strokeWidth": 1}},
{"data": {"name": "err"}, "mark": {"type": "rule", "color": "#8a8ac6", "strokeWidth": 1}, "encoding": {"y2": {"field": "r2"}}},
{"data": {"name": "caps"}, "mark": {"type": "tick", "orient": "horizontal", "color": "#8a8ac6", "size": 5, "thickness": 1}},
{"data": {"name": "fit"}, "mark": {"type": "line", "color": "#ff1414", "strokeWidth": 2.5}},
{"data": {"name": "pts"}, "mark": {"type": "circle", "size": 110, "color": "#3b3b98", "opacity": 1}}
]
},
{"data": {"values": [{"d": 0, "r": 60}]}, "mark": {"type": "point", "opacity": 0},
"encoding": {
"x": {"field": "d", "type": "quantitative", "scale": {"domain": [-20, 918], "nice": false, "zero": false}, "axis": {"orient": "top", "values": [0,50,100,150,200,250,300,350,400,450,500,550,600,650,700,750,800,850,900], "labels": false, "domain": false, "tickSize": {"condition": {"test": "datum.value % 200 === 0", "value": -7}, "value": -4}, "tickColor": "#999999", "title": null}},
"y": {"field": "r", "type": "quantitative", "scale": {"domain": [55.85, 81.5], "nice": false, "zero": false}, "axis": {"orient": "right", "values": [56,57,58,59,60,61,62,63,64,65,66,67,68,69,70,71,72,73,74,75,76,77,78,79,80,81], "labels": false, "domain": false, "tickSize": {"condition": {"test": "datum.value % 5 === 0", "value": -7}, "value": -4}, "tickColor": "#999999", "title": null}}
}}
],
"resolve": {"axis": {"x": "independent", "y": "independent"}}
}
],
"spacing": 5,
"bounds": "flush"
}
],
"spacing": 38
}
